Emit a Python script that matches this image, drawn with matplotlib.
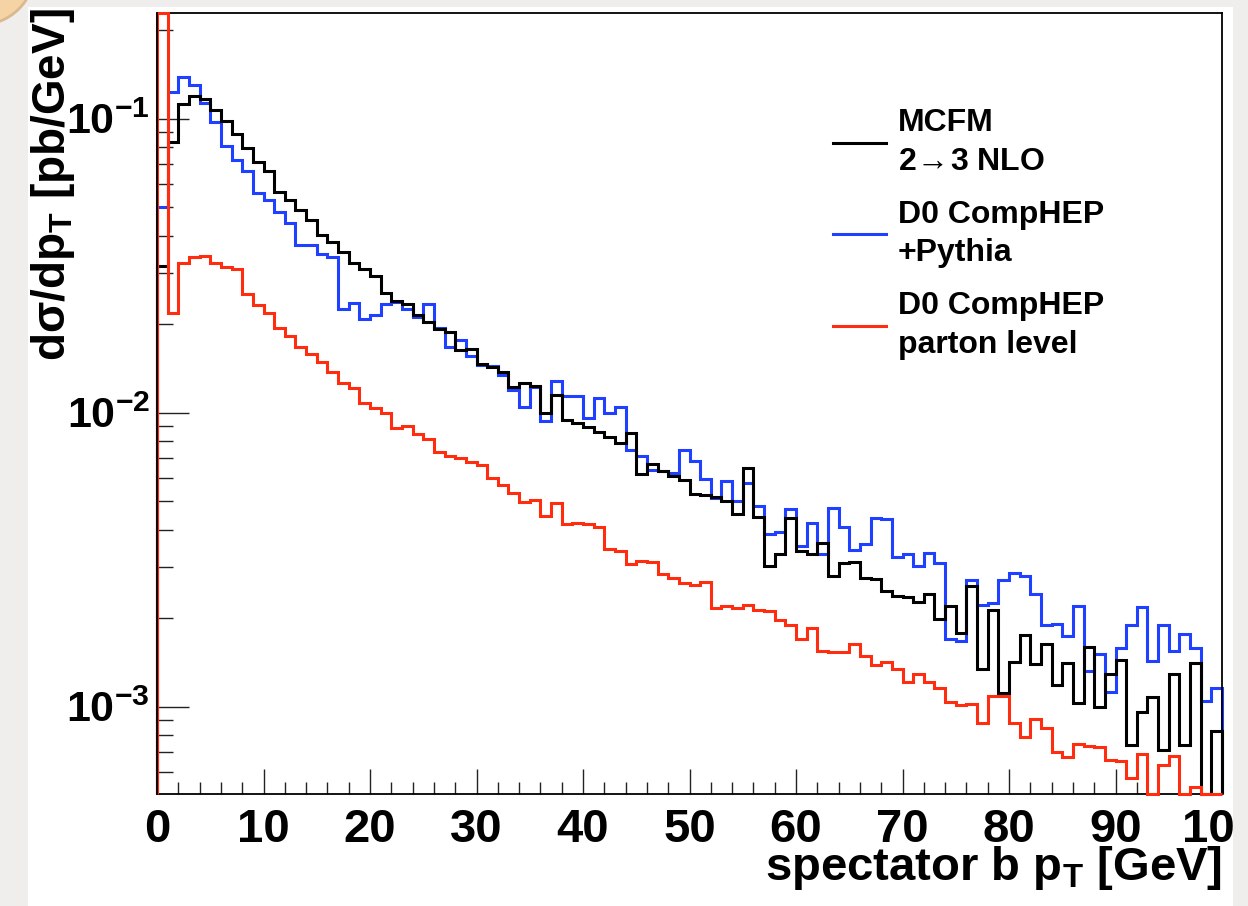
import matplotlib

matplotlib.use("Agg")

import matplotlib.pyplot as plt
import numpy as np
from matplotlib.lines import Line2D
from matplotlib.patches import Circle, Rectangle
from matplotlib.ticker import FixedLocator, FuncFormatter, LogLocator, MultipleLocator, NullFormatter

W, H = 1248, 906

# 1 GeV bins from 0 to 100 GeV
pt_edges = np.arange(0, 101, 1)

mcfm_nlo = [
    0.0316, 0.0837, 0.1125, 0.120, 0.1167, 0.1073, 0.0984, 0.0889, 0.0798, 0.0715,
    0.0666, 0.0565, 0.053, 0.049, 0.0453, 0.0403, 0.038, 0.0353, 0.0324, 0.0308,
    0.0292, 0.0256, 0.024, 0.0235, 0.0215, 0.0203, 0.0192, 0.0188, 0.0164, 0.0165,
    0.0146, 0.0143, 0.0138, 0.0122, 0.0126, 0.0123, 0.0100, 0.0115, 0.00943, 0.00924,
    0.00896, 0.0086, 0.00828, 0.00789, 0.00853, 0.00621, 0.00668, 0.00634, 0.00608, 0.00592,
    0.00531, 0.00525, 0.00518, 0.00502, 0.00451, 0.00651, 0.00443, 0.00302, 0.0033, 0.00439,
    0.0034, 0.0033, 0.0036, 0.00279, 0.00308, 0.0031, 0.00274, 0.00273, 0.00247, 0.00238,
    0.00237, 0.00227, 0.00241, 0.00199, 0.0022, 0.00178, 0.00257, 0.00134, 0.00213, 0.00111,
    0.00142, 0.00176, 0.0014, 0.00163, 0.00119, 0.00141, 0.00103, 0.0016, 0.000996, 0.00129,
    0.00144, 0.00074, 0.00096, 0.00108, 0.00071, 0.00129, 0.00074, 0.00141, 0.0, 0.00083,
]

d0_pythia = [
    0.0502, 0.1233, 0.139, 0.1305, 0.113, 0.0972, 0.0805, 0.0725, 0.0666, 0.0561,
    0.053, 0.0483, 0.0441, 0.0372, 0.0372, 0.0347, 0.034, 0.0225, 0.0237, 0.0208,
    0.0215, 0.0235, 0.0238, 0.0225, 0.0211, 0.0235, 0.0195, 0.0168, 0.0177, 0.0156,
    0.0145, 0.0144, 0.0134, 0.012, 0.0105, 0.0122, 0.00938, 0.0128, 0.0114, 0.0114,
    0.0096, 0.0112, 0.0100, 0.0105, 0.0075, 0.00714, 0.0064, 0.00634, 0.00624, 0.0075,
    0.00686, 0.00593, 0.00515, 0.00586, 0.00502, 0.00577, 0.00481, 0.00386, 0.00394, 0.00469,
    0.00351, 0.00421, 0.00331, 0.00475, 0.00408, 0.00342, 0.00358, 0.00438, 0.00434, 0.00322,
    0.0033, 0.00302, 0.00333, 0.00309, 0.0017, 0.00167, 0.00269, 0.00222, 0.00226, 0.0027,
    0.00285, 0.00279, 0.00241, 0.00189, 0.00191, 0.00174, 0.00221, 0.00132, 0.00151, 0.00112,
    0.00158, 0.0019, 0.00219, 0.00143, 0.00189, 0.00155, 0.00177, 0.00158, 0.00105, 0.00116,
]

d0_parton = [
    0.3, 0.0219, 0.0322, 0.0338, 0.0341, 0.0324, 0.0313, 0.0308, 0.0254, 0.0232,
    0.0219, 0.0195, 0.0182, 0.0168, 0.0159, 0.0149, 0.0138, 0.0126, 0.0121, 0.0108,
    0.0104, 0.0100, 0.00885, 0.009, 0.0085, 0.00815, 0.00736, 0.00712, 0.00703, 0.00681,
    0.00663, 0.00598, 0.0057, 0.00534, 0.00497, 0.00507, 0.00444, 0.00493, 0.00417, 0.00422,
    0.00417, 0.00408, 0.00344, 0.00338, 0.00306, 0.00314, 0.00311, 0.00283, 0.00274, 0.00263,
    0.0026, 0.00265, 0.00216, 0.00221, 0.00217, 0.00222, 0.00213, 0.00212, 0.00197, 0.00189,
    0.0017, 0.00186, 0.00155, 0.00153, 0.00153, 0.00163, 0.00149, 0.00139, 0.00142, 0.00134,
    0.00121, 0.00129, 0.00121, 0.00116, 0.00104, 0.00101, 0.00102, 0.00088, 0.00109, 0.00109,
    0.00088, 0.00079, 0.00091, 0.00085, 0.000704, 0.000676, 0.00075, 0.000736, 0.000727, 0.000658,
    0.000655, 0.000571, 0.00069, 0.0, 0.000634, 0.000681, 0.0, 0.000535, 0.0, 0.0,
]

labels = ["MCFM\n2$\\!\\rightarrow\\!$3 NLO", "D0 CompHEP\n+Pythia", "D0 CompHEP\nparton level"]
colors = ["black", "#1f40ff", "#ff2d0f"]

YMIN, YMAX = 5.05e-4, 0.229


def fx(px):
    return px / W


def fy(py):
    return 1 - py / H


plt.rcParams["font.family"] = ["Liberation Sans", "DejaVu Sans"]
plt.rcParams["font.weight"] = "bold"
plt.rcParams["axes.labelweight"] = "bold"
plt.rcParams["mathtext.default"] = "regular"

fig = plt.figure(figsize=(W / 100, H / 100), dpi=100)
fig.patch.set_facecolor("white")
ax = fig.add_axes([fx(157), fy(794), fx(1222) - fx(157), fy(13) - fy(794)])
ax.set_yscale("log")
ax.set_xlim(0, 100)
ax.set_ylim(YMIN, YMAX)

# ROOT draws out-of-range bins on the frame, so clip into the visible range
for vals, color, z in [(d0_pythia, colors[1], 2), (mcfm_nlo, colors[0], 3), (d0_parton, colors[2], 4)]:
    v = np.clip(np.asarray(vals, dtype=float), YMIN, YMAX)
    ax.stairs(v, pt_edges, baseline=YMIN, color=color, lw=2.2, zorder=z, clip_on=False)

ax.xaxis.set_major_locator(MultipleLocator(10))
ax.xaxis.set_minor_locator(MultipleLocator(2))
ax.yaxis.set_major_locator(FixedLocator([1e-3, 1e-2, 1e-1]))
ax.yaxis.set_minor_locator(LogLocator(base=10, subs=np.arange(2, 10)))
ax.yaxis.set_minor_formatter(NullFormatter())
ax.yaxis.set_major_formatter(FuncFormatter(lambda v, p: r"$10^{%d}$" % round(np.log10(v))))

ax.tick_params(which="both", direction="in", top=False, right=False, width=1.0, color="#222222")
ax.tick_params(axis="x", which="major", length=18, labelsize=34, pad=10)
ax.tick_params(axis="x", which="minor", length=8.6)
ax.tick_params(axis="y", which="major", length=23, labelsize=31, pad=5)
ax.tick_params(axis="y", which="minor", length=11.5)
for s in ax.spines.values():
    s.set_linewidth(1.3)
ax.spines["left"].set_zorder(5)

ax.set_xlabel("spectator b p$_{T}$ [GeV]", fontsize=34, fontweight="bold", ha="right")
ax.xaxis.set_label_coords(1.0, -0.064)
ax.set_ylabel("d\u03c3/dp$_{T}$ [pb/GeV]", fontsize=33, fontweight="bold", ha="right")
ax.yaxis.set_label_coords(-0.075, 1.006)

handles = [Line2D([], [], color=c, lw=2.2) for c in colors]
leg = ax.legend(
    handles,
    labels,
    loc="upper left",
    bbox_to_anchor=(fx(833), fy(108)),
    bbox_transform=fig.transFigure,
    frameon=False,
    fontsize=23,
    handlelength=1.65,
    handletextpad=0.38,
    labelspacing=0.72,
    borderpad=0,
    borderaxespad=0,
)
for t in leg.get_texts():
    t.set_linespacing(1.38)

# slide frame around the picture
band = "#efeeec"
fig.add_artist(Rectangle((0, 0), fx(28), 1, transform=fig.transFigure, fc=band, ec="none", zorder=10))
fig.add_artist(Rectangle((0, fy(7)), 1, 7 / H, transform=fig.transFigure, fc=band, ec="none", zorder=10))
fig.add_artist(Rectangle((fx(1233), 0), 15 / W, 1, transform=fig.transFigure, fc=band, ec="none", zorder=10))
fig.add_artist(Circle((-0.2, 9.36), 0.55, transform=fig.dpi_scale_trans, fc="#f5d3a5", ec="#dcb88e", lw=2, zorder=11))

fig.savefig("out.png", dpi=100)
